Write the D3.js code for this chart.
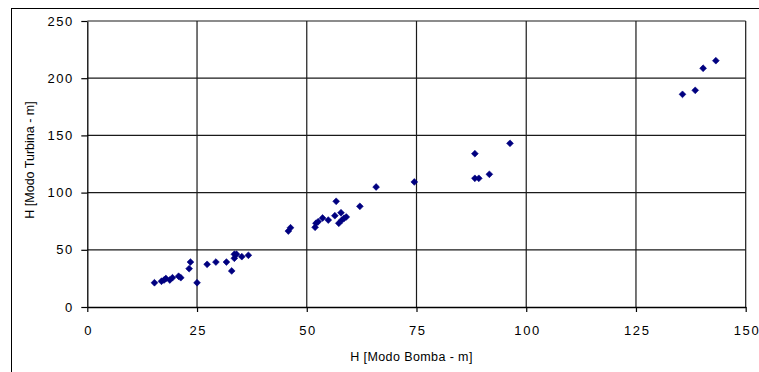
<!DOCTYPE html>
<html>
<head>
<meta charset="utf-8">
<script src="https://cdn.jsdelivr.net/npm/d3@7"></script>
<style>
  html, body { margin: 0; padding: 0; background: #fff; }
  svg { display: block; }
  text { font-family: "Liberation Sans", Arial, sans-serif; fill: #000; }
</style>
</head>
<body>
<svg id="chart" width="759" height="372"></svg>
<script>
// H measured in pump mode (x) and turbine mode (y), metres
const hBomba = [
  15.3, 16.9, 17.5, 17.9, 18.8, 19.4, 20.8, 21.3,
  23.2, 23.5, 25.0, 27.3, 29.3, 31.7, 32.9, 33.5, 33.5, 34.0, 35.2, 36.7,
  45.8, 46.3, 51.9, 52.1, 52.6, 53.6, 54.9, 56.4, 56.7, 57.3, 57.8, 58.0, 58.5, 59.0,
  62.1, 65.8, 74.5, 88.3, 88.3, 89.2, 91.6, 96.3,
  135.6, 138.5, 140.3, 143.2
];
const hTurbina = [
  21.2, 22.5, 23.6, 24.9, 23.6, 25.6, 26.9, 25.6,
  33.5, 39.3, 21.2, 37.3, 39.3, 39.3, 31.5, 42.6, 46.1, 46.1, 44.0, 45.2,
  66.4, 69.3, 69.7, 73.2, 74.6, 77.8, 76.0, 79.8, 92.4, 73.2, 82.4, 76.0, 77.6, 78.7,
  88.0, 104.9, 109.3, 134.0, 112.5, 112.5, 116.0, 143.1,
  185.9, 189.4, 208.7, 215.3
];
const xTicks = [0, 25, 50, 75, 100, 125, 150];
const yTicks = [0, 50, 100, 150, 200, 250];
const xTitle = "H [Modo Bomba - m]";
const yTitle = "H [Modo Turbina - m]";

const svg = d3.select("#chart");

// outer chart frame (right/bottom edges run past the page)
svg.append("rect")
  .attr("x", 11.5).attr("y", 8.5)
  .attr("width", 800).attr("height", 400)
  .attr("fill", "none").attr("stroke", "#000").attr("stroke-width", 1);

const x = d3.scaleLinear().domain([0, 150]).range([87.3, 745.7]);
const y = d3.scaleLinear().domain([0, 250]).range([307, 21]);

// gridlines
const grid = svg.append("g");
grid.selectAll("line.h").data(yTicks.filter(d => d > 0)).join("line")
  .attr("class", "h")
  .attr("x1", x(0)).attr("x2", x(150))
  .attr("y1", d => y(d)).attr("y2", d => y(d))
  .attr("stroke", "#1a1a1a").attr("stroke-width", 1.2);
grid.selectAll("line.v").data(xTicks.filter(d => d > 0)).join("line")
  .attr("class", "v")
  .attr("y1", y(0)).attr("y2", y(250))
  .attr("x1", d => x(d)).attr("x2", d => x(d))
  .attr("stroke", "#1a1a1a").attr("stroke-width", 1.2);

// axes
const xAxis = svg.append("g")
  .attr("transform", `translate(0,${y(0)})`)
  .call(d3.axisBottom(x).tickValues(xTicks).tickSize(5).tickSizeOuter(0).tickPadding(14));
const yAxis = svg.append("g")
  .attr("transform", `translate(${x(0)},0)`)
  .call(d3.axisLeft(y).tickValues(yTicks).tickSize(6).tickSizeOuter(0).tickPadding(9));

[xAxis, yAxis].forEach(g => {
  g.select(".domain").attr("stroke", "#000").attr("stroke-width", 1.3);
  g.selectAll(".tick line").attr("stroke", "#000").attr("stroke-width", 1.2);
  g.selectAll(".tick text")
    .attr("fill", "#000")
    .style("font-family", "'Liberation Sans', Arial, sans-serif")
    .style("font-size", "13px")
    .style("letter-spacing", "1.6px");
});
xAxis.selectAll(".tick text").attr("dx", "0.8px");
yAxis.selectAll(".tick text").attr("dx", "1.6px");

// axis titles
svg.append("text")
  .attr("x", (x(0) + x(150)) / 2 - 5)
  .attr("y", 361)
  .attr("text-anchor", "middle")
  .style("font-size", "12.5px")
  .style("letter-spacing", "0.4px")
  .text(xTitle);

svg.append("text")
  .attr("transform", `translate(34,160) rotate(-90)`)
  .attr("text-anchor", "middle")
  .style("font-size", "12.5px")
  .text(yTitle);

// data points as diamonds
const pts = hBomba.map((v, i) => ({ b: v, t: hTurbina[i] }));
svg.append("g").selectAll("path").data(pts).join("path")
  .attr("transform", d => `translate(${x(d.b)},${y(d.t)})`)
  .attr("d", "M0,-3.4L3.4,0L0,3.4L-3.4,0Z")
  .attr("fill", "#000080")
  .attr("stroke", "#000080")
  .attr("stroke-width", 0.6);
</script>
</body>
</html>
